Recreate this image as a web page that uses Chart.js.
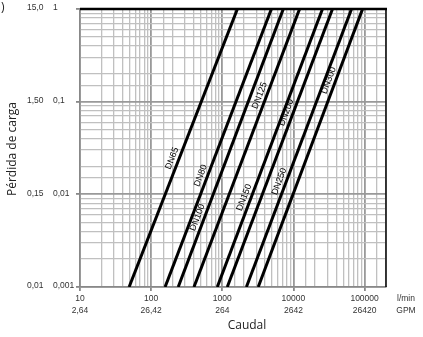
<!DOCTYPE html>
<html>
<head>
<meta charset="utf-8">
<script src="https://cdn.jsdelivr.net/npm/chart.js@4.4.1/dist/chart.umd.min.js"></script>
<style>
  body { margin: 0; background: #fff; }
</style>
</head>
<body>
<canvas id="myChart" width="423" height="337"></canvas>
<script>
// curvas de pérdida de carga: caudal (l/min) donde cada DN corta 0,001 y 1
const dnNames = ['DN65', 'DN80', 'DN100', 'DN125', 'DN150', 'DN200', 'DN250', 'DN300'];
const flowAtMin = [49, 157, 240, 400, 850, 1175, 2180, 3200];
const flowAtMax = [1630, 4900, 7200, 12200, 25600, 35400, 65600, 93700];
const lossMin = 0.001;
const lossMax = 1;
// donde va el rótulo de cada curva (valor de pérdida)
const labelAt = [0.023, 0.015, 0.0053, 0.11, 0.0087, 0.072, 0.013, 0.16];

const flowTicks = [10, 100, 1000, 10000, 100000];
const gpmLabels = ['2,64', '26,42', '264', '2642', '26420'];
const lossTicks = [1, 0.1, 0.01, 0.001];
const lossLabels = ['1', '0,1', '0,01', '0,001'];
const mcaLabels = ['15,0', '1,50', '0,15', '0,01'];

function isDecade(v) {
    const l = Math.log10(v);
    return Math.abs(l - Math.round(l)) < 1e-6;
}

function gridOpts() {
    return {
        color: c => (c.tick && isDecade(c.tick.value)) ? '#999' : '#c0c0c0',
        lineWidth: c => (c.tick && isDecade(c.tick.value)) ? 1.8 : 1.3,
        tickColor: c => (c.tick && isDecade(c.tick.value)) ? '#888' : 'rgba(0,0,0,0)',
        tickLength: 4,
        drawTicks: true
    };
}

const datasets = dnNames.map(function(name, i) {
    return {
        label: name,
        data: [{x: flowAtMin[i], y: lossMin}, {x: flowAtMax[i], y: lossMax}],
        borderColor: '#000',
        borderWidth: 3,
        pointRadius: 0,
        showLine: true,
        fill: false,
        tension: 0
    };
});

// textos, rótulos y bordes
const textPlugin = {
    id: 'textos',
    afterDraw(chart) {
        const c = chart.ctx;
        const xs = chart.scales.x;
        const ys = chart.scales.y;
        const area = chart.chartArea;
        c.save();

        c.strokeStyle = '#000';
        c.lineWidth = 2.5;
        c.beginPath();
        c.moveTo(area.left, area.top);
        c.lineTo(area.right + 1, area.top);
        c.stroke();
        c.lineWidth = 1.5;
        c.beginPath();
        c.moveTo(area.right, area.top);
        c.lineTo(area.right, area.bottom);
        c.stroke();

        // rótulos de las curvas
        c.fillStyle = '#000';
        c.font = '9px "Liberation Sans", Arial, sans-serif';
        c.textAlign = 'center';
        c.textBaseline = 'middle';
        dnNames.forEach(function(name, i) {
            const x0 = xs.getPixelForValue(flowAtMin[i]), y0 = ys.getPixelForValue(lossMin);
            const x1 = xs.getPixelForValue(flowAtMax[i]), y1 = ys.getPixelForValue(lossMax);
            const y = ys.getPixelForValue(labelAt[i]);
            const x = x0 + (x1 - x0) * (y - y0) / (y1 - y0);
            const ang = Math.atan2(y1 - y0, x1 - x0);
            c.save();
            c.translate(x, y);
            c.rotate(ang);
            c.fillText(name, 0, -6.5);
            c.restore();
        });

        // ejes
        c.fillStyle = '#333';
        c.font = '8.5px "Liberation Sans", Arial, sans-serif';
        c.textAlign = 'left';
        lossTicks.forEach(function(v, i) {
            const y = ys.getPixelForValue(v);
            c.fillText(mcaLabels[i], 27, y - 1);
            c.fillText(lossLabels[i], 53, y - 1);
        });
        c.textAlign = 'center';
        flowTicks.forEach(function(v, i) {
            const x = xs.getPixelForValue(v);
            c.fillText(String(v), x, area.bottom + 12);
            c.fillText(gpmLabels[i], x, area.bottom + 24);
        });
        c.fillText('l/min', 406, area.bottom + 12);
        c.fillText('GPM', 406, area.bottom + 24);

        c.fillStyle = '#222';
        c.font = '12px "Open Sans", sans-serif';
        c.fillText('Caudal', 247, 326);
        c.save();
        c.translate(13, 149);
        c.rotate(-Math.PI / 2);
        c.fillText('Pérdida de carga', 0, 0);
        c.restore();

        c.textAlign = 'left';
        c.font = '12px "Open Sans", sans-serif';
        c.fillText(')', 1, 8);
        c.restore();
    }
};

const ctx = document.getElementById('myChart');

var chart = new Chart(ctx, {
    type: 'scatter',
    data: { datasets: datasets },
    options: {
        responsive: false,
        animation: false,
        devicePixelRatio: 1,
        layout: { padding: { left: 76, right: 37, top: 9, bottom: 46 } },
        plugins: {
            legend: { display: false },
            tooltip: { enabled: false }
        },
        scales: {
            x: {
                type: 'logarithmic',
                min: 10,
                max: 200000,
                ticks: { display: false },
                grid: gridOpts(),
                border: { color: '#888', width: 1.5 }
            },
            y: {
                type: 'logarithmic',
                min: lossMin,
                max: lossMax,
                ticks: { display: false },
                grid: gridOpts(),
                border: { color: '#888', width: 1.5 }
            }
        }
    },
    plugins: [textPlugin]
});
</script>
</body>
</html>
